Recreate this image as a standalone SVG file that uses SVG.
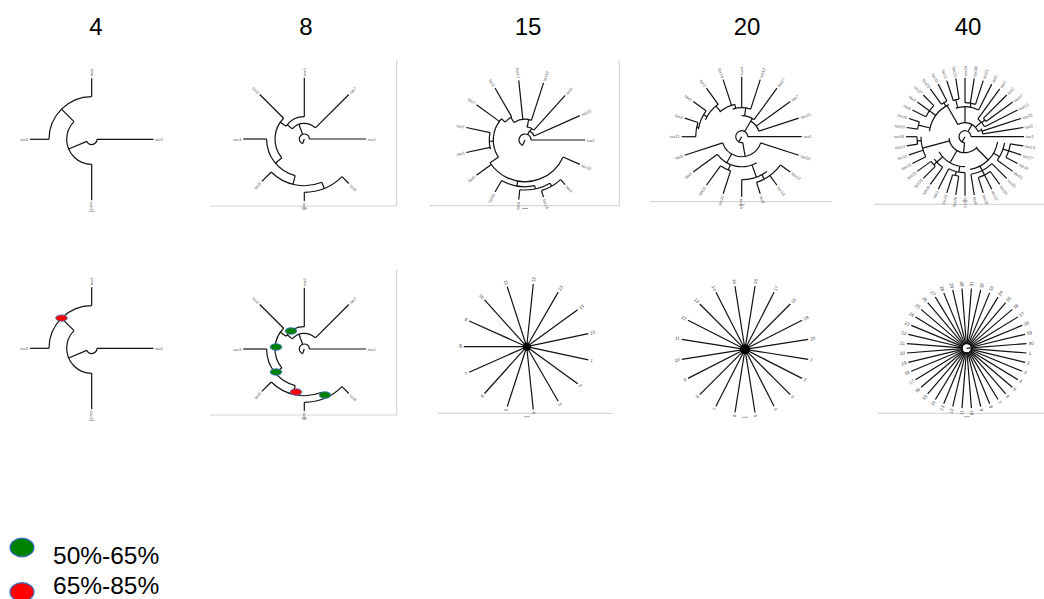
<svg xmlns="http://www.w3.org/2000/svg" xmlns:xlink="http://www.w3.org/1999/xlink" width="1044" height="599" viewBox="0 0 1044 599">
<style>
.tr line,.tr .a{stroke:#111;stroke-width:1.2;fill:none}
.tr line.sb{stroke:#666;stroke-width:0.6}
.l{font-family:"Liberation Sans",Arial,sans-serif;font-size:4.2px;fill:#666;dominant-baseline:central}
.n{font-family:"Liberation Sans",Arial,sans-serif;font-size:4.6px;fill:#444;dominant-baseline:central}
.le{text-anchor:end}
.fr{stroke:#d6d6d6;stroke-width:1.2;fill:none}
.h{font-family:"Liberation Sans",Arial,sans-serif;font-size:24px;fill:#000;text-anchor:middle}
.lg{font-family:"Liberation Sans",Arial,sans-serif;font-size:24.5px;fill:#000}
.g{fill:#008000;stroke:#3a6fc4;stroke-width:0.8}
.r{fill:#ff0000;stroke:#3a6fc4;stroke-width:0.8}
.dot{fill:#000}
</style>
<defs>
<g id="tree4" class="tr">
 <circle class="a" r="5.3" pathLength="360" stroke-dasharray="157 400"/>
 <circle class="a" r="25" pathLength="360" stroke-dasharray="135 400" transform="rotate(90)"/>
 <circle class="a" r="42.7" pathLength="360" stroke-dasharray="90 400" transform="rotate(180)"/>
 <line x1="5.3" x2="25" transform="rotate(157)"/>
 <line x1="25" x2="42.7" transform="rotate(225)"/>
 <line x1="5.3" x2="61.7"/>
 <line x1="42.7" x2="61.7" transform="rotate(180)"/>
 <line x1="42.7" x2="61" transform="rotate(270)"/>
 <line x1="25" x2="61" transform="rotate(90)"/>
 <text class="l" x="63.5">tax1</text>
 <text class="l le" x="-63.5">tax3</text>
 <text class="l" x="63" transform="rotate(270)">tax4</text>
 <text class="l" x="63" transform="rotate(90)">tax2</text>
 <line class="sb" x1="-3" x2="3" y1="72" y2="72"/>
</g>
<g id="tree8" class="tr">
 <circle class="a" r="5" pathLength="360" stroke-dasharray="250 400" transform="rotate(110)"/>
 <circle class="a" r="15.7" pathLength="360" stroke-dasharray="95 400" transform="rotate(220)"/>
 <circle class="a" r="22.3" pathLength="360" stroke-dasharray="55 400" transform="rotate(215)"/>
 <circle class="a" r="29.3" pathLength="360" stroke-dasharray="85 400" transform="rotate(140)"/>
 <circle class="a" r="37.7" pathLength="360" stroke-dasharray="76 400" transform="rotate(104)"/>
 <circle class="a" r="46.7" pathLength="360" stroke-dasharray="67 400" transform="rotate(68)"/>
 <circle class="a" r="53.3" pathLength="360" stroke-dasharray="45 400" transform="rotate(45)"/>
 <line x1="0" x2="5" transform="rotate(110)"/>
 <line x1="5" x2="15.7" transform="rotate(250)"/>
 <line x1="15.7" x2="22.3" transform="rotate(220)"/>
 <line x1="22.3" x2="29.3" transform="rotate(215)"/>
 <line x1="29.3" x2="37.7" transform="rotate(140)"/>
 <line x1="37.7" x2="46.7" transform="rotate(104)"/>
 <line x1="46.7" x2="53.3" transform="rotate(68)"/>
 <line x1="5" x2="61.7"/>
 <line x1="15.7" x2="63" transform="rotate(315)"/>
 <line x1="22.3" x2="61.3" transform="rotate(270)"/>
 <line x1="29.3" x2="63" transform="rotate(225)"/>
 <line x1="37.7" x2="61" transform="rotate(180)"/>
 <line x1="46.7" x2="60" transform="rotate(135)"/>
 <line x1="53.3" x2="62" transform="rotate(90)"/>
 <line x1="53.3" x2="63" transform="rotate(45)"/>
 <text class="l" x="63.5">tax1</text>
 <text class="l" x="65" transform="rotate(315)">tax7</text>
 <text class="l" x="63" transform="rotate(270)">tax4</text>
 <text class="l le" x="-65" transform="rotate(45)">tax2</text>
 <text class="l le" x="-63" >tax3</text>
 <text class="l le" x="-62" transform="rotate(-45)">tax5</text>
 <text class="l" x="63.5" transform="rotate(90)">tax8</text>
 <text class="l" x="65" transform="rotate(45)">tax6</text>
 <line class="sb" x1="-3" x2="3" y1="69" y2="69"/>
</g>
</defs>

<g id="headers">
 <text class="h" x="96" y="35">4</text>
 <text class="h" x="306" y="35">8</text>
 <text class="h" x="528" y="35">15</text>
 <text class="h" x="747" y="35">20</text>
 <text class="h" x="968" y="35">40</text>
</g>

<g id="panel-4">
 <use xlink:href="#tree4" href="#tree4" transform="translate(91.7,139.3)"/>
</g>

<g id="panel-8">
 <path class="fr" d="M396.7,60 V206 H210"/>
 <use xlink:href="#tree8" href="#tree8" transform="translate(304.3,139)"/>
</g>

<g id="panel-15" class="tr" transform="translate(525,140)">
 <path class="fr" d="M94.3,-80 V65.7 H-95" />
 <circle class="a" r="6" pathLength="360" stroke-dasharray="245 400" transform="rotate(115)"/>
 <circle class="a" r="10" pathLength="360" stroke-dasharray="40 400" transform="rotate(296)"/>
 <circle class="a" r="13.3" pathLength="360" stroke-dasharray="36 400" transform="rotate(276)"/>
 <circle class="a" r="20.7" pathLength="360" stroke-dasharray="50 400" transform="rotate(238)"/>
 <circle class="a" r="26.7" pathLength="360" stroke-dasharray="18 400" transform="rotate(222)"/>
 <circle class="a" r="31.7" pathLength="360" stroke-dasharray="75 400" transform="rotate(147)"/>
 <circle class="a" r="35.7" pathLength="360" stroke-dasharray="27 400" transform="rotate(165)"/>
 <circle class="a" r="41.7" pathLength="360" stroke-dasharray="123 400" transform="rotate(24)"/>
 <circle class="a" r="46.7" pathLength="360" stroke-dasharray="42 400" transform="rotate(78)"/>
 <circle class="a" r="50" pathLength="360" stroke-dasharray="36 400" transform="rotate(60)"/>
 <circle class="a" r="53.3" pathLength="360" stroke-dasharray="24 400" transform="rotate(48)"/>
 <line x1="0" x2="6" transform="rotate(115)"/>
 <line x1="6" x2="10" transform="rotate(296)"/>
 <line x1="10" x2="13.3" transform="rotate(300)"/>
 <line x1="13.3" x2="20.7" transform="rotate(280)"/>
 <line x1="20.7" x2="26.7" transform="rotate(238)"/>
 <line x1="26.7" x2="31.7" transform="rotate(222)"/>
 <line x1="31.7" x2="35.7" transform="rotate(178)"/>
 <line x1="31.7" x2="41.7" transform="rotate(147)"/>
 <line x1="41.7" x2="46.7" transform="rotate(100)"/>
 <line x1="46.7" x2="50" transform="rotate(78)"/>
 <line x1="50" x2="53.3" transform="rotate(60)"/>
 <line x1="6" x2="60"/>
 <line x1="10" x2="60" transform="rotate(336)"/>
 <line x1="13.3" x2="60" transform="rotate(312)"/>
 <line x1="20.7" x2="60" transform="rotate(288)"/>
 <line x1="20.7" x2="60" transform="rotate(264)"/>
 <line x1="26.7" x2="60" transform="rotate(240)"/>
 <line x1="31.7" x2="60" transform="rotate(216)"/>
 <line x1="35.7" x2="60" transform="rotate(192)"/>
 <line x1="35.7" x2="60" transform="rotate(168)"/>
 <line x1="41.7" x2="60" transform="rotate(144)"/>
 <line x1="46.7" x2="60" transform="rotate(120)"/>
 <line x1="50" x2="60" transform="rotate(96)"/>
 <line x1="53.3" x2="60" transform="rotate(72)"/>
 <line x1="53.3" x2="60" transform="rotate(48)"/>
 <line x1="41.7" x2="60" transform="rotate(24)"/>
 <text class="l" x="62">tax1</text>
 <text class="l" x="62" transform="rotate(336)">tax15</text>
 <text class="l" x="62" transform="rotate(312)">tax9</text>
 <text class="l" x="62" transform="rotate(288)">tax13</text>
 <text class="l le" x="-62" transform="rotate(84)">tax12</text>
 <text class="l le" x="-62" transform="rotate(60)">tax2</text>
 <text class="l le" x="-62" transform="rotate(36)">tax7</text>
 <text class="l le" x="-62" transform="rotate(12)">tax3</text>
 <text class="l le" x="-62" transform="rotate(-12)">tax6</text>
 <text class="l le" x="-62" transform="rotate(-36)">tax5</text>
 <text class="l le" x="-62" transform="rotate(-60)">tax11</text>
 <text class="l le" x="-62" transform="rotate(-84)">tax8</text>
 <text class="l" x="62" transform="rotate(72)">tax14</text>
 <text class="l" x="62" transform="rotate(48)">tax4</text>
 <text class="l" x="62" transform="rotate(24)">tax10</text>
 <line class="sb" x1="-3" x2="3" y1="68.5" y2="68.5"/>
</g>

<g id="panel-20" class="tr" transform="translate(741.7,136.7)">
 <path class="fr" d="M-91.7,65 H90.3"/>
 <circle class="a" r="6" pathLength="360" stroke-dasharray="280 400" transform="rotate(80)"/>
 <circle class="a" r="20" pathLength="360" stroke-dasharray="144 400" transform="rotate(18)"/>
 <circle class="a" r="30" pathLength="360" stroke-dasharray="84 400" transform="rotate(60)"/>
 <circle class="a" r="36" pathLength="360" stroke-dasharray="18 400" transform="rotate(108)"/>
 <circle class="a" r="43" pathLength="360" stroke-dasharray="36 400" transform="rotate(54)"/>
 <circle class="a" r="48" pathLength="360" stroke-dasharray="36 400" transform="rotate(36)"/>
 <circle class="a" r="18" pathLength="360" stroke-dasharray="42 400" transform="rotate(300)"/>
 <circle class="a" r="21" pathLength="360" stroke-dasharray="36 400" transform="rotate(270)"/>
 <circle class="a" r="29" pathLength="360" stroke-dasharray="36 400" transform="rotate(252)"/>
 <circle class="a" r="33" pathLength="360" stroke-dasharray="30 400" transform="rotate(228)"/>
 <circle class="a" r="40" pathLength="360" stroke-dasharray="29 400" transform="rotate(205)"/>
 <circle class="a" r="44" pathLength="360" stroke-dasharray="26 400" transform="rotate(190)"/>
 <circle class="a" r="46" pathLength="360" stroke-dasharray="18 400" transform="rotate(180)"/>
 <line x1="0" x2="6" transform="rotate(120)"/>
 <line x1="6" x2="20" transform="rotate(80)"/>
 <line x1="20" x2="30" transform="rotate(120)"/>
 <line x1="30" x2="36" transform="rotate(112)"/>
 <line x1="30" x2="43" transform="rotate(70)"/>
 <line x1="43" x2="48" transform="rotate(62)"/>
 <line x1="6" x2="21" transform="rotate(300)"/>
 <line x1="21" x2="29" transform="rotate(278)"/>
 <line x1="29" x2="33" transform="rotate(258)"/>
 <line x1="33" x2="40" transform="rotate(230)"/>
 <line x1="40" x2="44" transform="rotate(210)"/>
 <line x1="44" x2="46" transform="rotate(192)"/>
 <line x1="6" x2="60"/>
 <line x1="20" x2="60" transform="rotate(18)"/>
 <line x1="48" x2="60" transform="rotate(36)"/>
 <line x1="48" x2="60" transform="rotate(54)"/>
 <line x1="48" x2="60" transform="rotate(72)"/>
 <line x1="43" x2="60" transform="rotate(90)"/>
 <line x1="36" x2="60" transform="rotate(108)"/>
 <line x1="36" x2="60" transform="rotate(126)"/>
 <line x1="30" x2="60" transform="rotate(144)"/>
 <line x1="20" x2="60" transform="rotate(162)"/>
 <line x1="46" x2="60" transform="rotate(180)"/>
 <line x1="46" x2="60" transform="rotate(198)"/>
 <line x1="44" x2="60" transform="rotate(216)"/>
 <line x1="40" x2="60" transform="rotate(234)"/>
 <line x1="33" x2="60" transform="rotate(252)"/>
 <line x1="29" x2="60" transform="rotate(270)"/>
 <line x1="29" x2="60" transform="rotate(288)"/>
 <line x1="21" x2="60" transform="rotate(306)"/>
 <line x1="18" x2="60" transform="rotate(324)"/>
 <line x1="18" x2="60" transform="rotate(342)"/>
 <text class="l" x="62">tax1</text>
 <text class="l" x="62" transform="rotate(18)">tax20</text>
 <text class="l" x="62" transform="rotate(36)">tax13</text>
 <text class="l" x="62" transform="rotate(54)">tax18</text>
 <text class="l" x="62" transform="rotate(72)">tax9</text>
 <text class="l" x="62" transform="rotate(90)">tax16</text>
 <text class="l le" x="-62" transform="rotate(-72)">tax10</text>
 <text class="l le" x="-62" transform="rotate(-54)">tax19</text>
 <text class="l le" x="-62" transform="rotate(-36)">tax5</text>
 <text class="l le" x="-62" transform="rotate(-18)">tax8</text>
 <text class="l le" x="-62">tax11</text>
 <text class="l le" x="-62" transform="rotate(18)">tax2</text>
 <text class="l le" x="-62" transform="rotate(36)">tax6</text>
 <text class="l le" x="-62" transform="rotate(54)">tax3</text>
 <text class="l le" x="-62" transform="rotate(72)">tax14</text>
 <text class="l" x="62" transform="rotate(270)">tax4</text>
 <text class="l" x="62" transform="rotate(288)">tax12</text>
 <text class="l" x="62" transform="rotate(306)">tax17</text>
 <text class="l" x="62" transform="rotate(324)">tax7</text>
 <text class="l" x="62" transform="rotate(342)">tax15</text>
 <line class="sb" x1="-3" x2="3" y1="68" y2="68"/>
</g>

<g id="panel-40" class="tr" transform="translate(965,136.7)">
 <path class="fr" d="M-90,67.6 H79"/>
 <circle class="a" r="6" pathLength="360" stroke-dasharray="265 400" transform="rotate(95)"/>
 <circle class="a" r="14" pathLength="360" stroke-dasharray="98 400" transform="rotate(240)"/>
 <circle class="a" r="18" pathLength="360" stroke-dasharray="18 400" transform="rotate(333)"/>
 <circle class="a" r="22" pathLength="360" stroke-dasharray="27 400" transform="rotate(306)"/>
 <circle class="a" r="26" pathLength="360" stroke-dasharray="9 400" transform="rotate(315)"/>
 <circle class="a" r="30" pathLength="360" stroke-dasharray="45 400" transform="rotate(252)"/>
 <circle class="a" r="34" pathLength="360" stroke-dasharray="18 400" transform="rotate(270)"/>
 <circle class="a" r="38" pathLength="360" stroke-dasharray="9 400" transform="rotate(252)"/>
 <circle class="a" r="36" pathLength="360" stroke-dasharray="54 400" transform="rotate(189)"/>
 <circle class="a" r="40" pathLength="360" stroke-dasharray="9 400" transform="rotate(234)"/>
 <circle class="a" r="44" pathLength="360" stroke-dasharray="18 400" transform="rotate(207)"/>
 <circle class="a" r="48" pathLength="360" stroke-dasharray="9 400" transform="rotate(189)"/>
 <circle class="a" r="16" pathLength="360" stroke-dasharray="135 400" transform="rotate(40)"/>
 <circle class="a" r="33" pathLength="360" stroke-dasharray="72 400" transform="rotate(9)"/>
 <circle class="a" r="40" pathLength="360" stroke-dasharray="27 400" transform="rotate(9)"/>
 <circle class="a" r="46" pathLength="360" stroke-dasharray="18 400" transform="rotate(9)"/>
 <circle class="a" r="38" pathLength="360" stroke-dasharray="36 400" transform="rotate(45)"/>
 <circle class="a" r="43" pathLength="360" stroke-dasharray="18 400" transform="rotate(54)"/>
 <circle class="a" r="30" pathLength="360" stroke-dasharray="60 400" transform="rotate(90)"/>
 <circle class="a" r="36" pathLength="360" stroke-dasharray="27 400" transform="rotate(90)"/>
 <circle class="a" r="40" pathLength="360" stroke-dasharray="9 400" transform="rotate(99)"/>
 <circle class="a" r="38" pathLength="360" stroke-dasharray="18 400" transform="rotate(126)"/>
 <circle class="a" r="42" pathLength="360" stroke-dasharray="9 400" transform="rotate(135)"/>
 <circle class="a" r="44" pathLength="360" stroke-dasharray="27 400" transform="rotate(153)"/>
 <circle class="a" r="48" pathLength="360" stroke-dasharray="9 400" transform="rotate(171)"/>
 <line x1="0" x2="6" transform="rotate(120)"/>
 <line x1="6" x2="14" transform="rotate(300)"/>
 <line x1="14" x2="18" transform="rotate(338)"/>
 <line x1="14" x2="22" transform="rotate(318)"/>
 <line x1="22" x2="26" transform="rotate(320)"/>
 <line x1="14" x2="30" transform="rotate(270)"/>
 <line x1="30" x2="34" transform="rotate(280)"/>
 <line x1="30" x2="38" transform="rotate(256)"/>
 <line x1="14" x2="36" transform="rotate(240)"/>
 <line x1="36" x2="40" transform="rotate(238)"/>
 <line x1="36" x2="44" transform="rotate(216)"/>
 <line x1="36" x2="48" transform="rotate(194)"/>
 <line x1="6" x2="16" transform="rotate(95)"/>
 <line x1="16" x2="33" transform="rotate(45)"/>
 <line x1="33" x2="40" transform="rotate(30)"/>
 <line x1="40" x2="46" transform="rotate(18)"/>
 <line x1="33" x2="43" transform="rotate(63)"/>
 <line x1="16" x2="30" transform="rotate(120)"/>
 <line x1="30" x2="36" transform="rotate(100)"/>
 <line x1="36" x2="40" transform="rotate(104)"/>
 <line x1="30" x2="42" transform="rotate(138)"/>
 <line x1="16" x2="44" transform="rotate(165)"/>
 <line x1="44" x2="48" transform="rotate(175)"/>
 <line x1="6" x2="59"/>
 <line x1="46" x2="59" transform="rotate(9)"/>
 <line x1="46" x2="59" transform="rotate(18)"/>
 <line x1="46" x2="59" transform="rotate(27)"/>
 <line x1="40" x2="59" transform="rotate(36)"/>
 <line x1="38" x2="59" transform="rotate(45)"/>
 <line x1="43" x2="59" transform="rotate(54)"/>
 <line x1="43" x2="59" transform="rotate(63)"/>
 <line x1="43" x2="59" transform="rotate(72)"/>
 <line x1="38" x2="59" transform="rotate(81)"/>
 <line x1="36" x2="59" transform="rotate(90)"/>
 <line x1="40" x2="59" transform="rotate(99)"/>
 <line x1="40" x2="59" transform="rotate(108)"/>
 <line x1="36" x2="59" transform="rotate(117)"/>
 <line x1="38" x2="59" transform="rotate(126)"/>
 <line x1="42" x2="59" transform="rotate(135)"/>
 <line x1="42" x2="59" transform="rotate(144)"/>
 <line x1="44" x2="59" transform="rotate(153)"/>
 <line x1="44" x2="59" transform="rotate(162)"/>
 <line x1="48" x2="59" transform="rotate(171)"/>
 <line x1="48" x2="59" transform="rotate(180)"/>
 <line x1="48" x2="59" transform="rotate(189)"/>
 <line x1="48" x2="59" transform="rotate(198)"/>
 <line x1="44" x2="59" transform="rotate(207)"/>
 <line x1="44" x2="59" transform="rotate(216)"/>
 <line x1="44" x2="59" transform="rotate(225)"/>
 <line x1="40" x2="59" transform="rotate(234)"/>
 <line x1="40" x2="59" transform="rotate(243)"/>
 <line x1="38" x2="59" transform="rotate(252)"/>
 <line x1="38" x2="59" transform="rotate(261)"/>
 <line x1="34" x2="59" transform="rotate(270)"/>
 <line x1="34" x2="59" transform="rotate(279)"/>
 <line x1="34" x2="59" transform="rotate(288)"/>
 <line x1="30" x2="59" transform="rotate(297)"/>
 <line x1="22" x2="59" transform="rotate(306)"/>
 <line x1="26" x2="59" transform="rotate(315)"/>
 <line x1="26" x2="59" transform="rotate(324)"/>
 <line x1="22" x2="59" transform="rotate(333)"/>
 <line x1="18" x2="59" transform="rotate(342)"/>
 <line x1="18" x2="59" transform="rotate(351)"/>
 <text class="l" x="60.8">tax1</text>
 <text class="l" x="60.8" transform="rotate(9)">tax19</text>
 <text class="l" x="60.8" transform="rotate(18)">tax17</text>
 <text class="l" x="60.8" transform="rotate(27)">tax32</text>
 <text class="l" x="60.8" transform="rotate(36)">tax21</text>
 <text class="l" x="60.8" transform="rotate(45)">tax23</text>
 <text class="l" x="60.8" transform="rotate(54)">tax34</text>
 <text class="l" x="60.8" transform="rotate(63)">tax12</text>
 <text class="l" x="60.8" transform="rotate(72)">tax29</text>
 <text class="l" x="60.8" transform="rotate(81)">tax8</text>
 <text class="l" x="60.8" transform="rotate(90)">tax24</text>
 <text class="l le" x="-60.8" transform="rotate(-81)">tax35</text>
 <text class="l le" x="-60.8" transform="rotate(-72)">tax16</text>
 <text class="l le" x="-60.8" transform="rotate(-63)">tax3</text>
 <text class="l le" x="-60.8" transform="rotate(-54)">tax28</text>
 <text class="l le" x="-60.8" transform="rotate(-45)">tax39</text>
 <text class="l le" x="-60.8" transform="rotate(-36)">tax25</text>
 <text class="l le" x="-60.8" transform="rotate(-27)">tax18</text>
 <text class="l le" x="-60.8" transform="rotate(-18)">tax15</text>
 <text class="l le" x="-60.8" transform="rotate(-9)">tax14</text>
 <text class="l le" x="-60.8">tax33</text>
 <text class="l le" x="-60.8" transform="rotate(9)">tax30</text>
 <text class="l le" x="-60.8" transform="rotate(18)">tax40</text>
 <text class="l le" x="-60.8" transform="rotate(27)">tax6</text>
 <text class="l le" x="-60.8" transform="rotate(36)">tax4</text>
 <text class="l le" x="-60.8" transform="rotate(45)">tax27</text>
 <text class="l le" x="-60.8" transform="rotate(54)">tax20</text>
 <text class="l le" x="-60.8" transform="rotate(63)">tax36</text>
 <text class="l le" x="-60.8" transform="rotate(72)">tax11</text>
 <text class="l le" x="-60.8" transform="rotate(81)">tax10</text>
 <text class="l" x="60.8" transform="rotate(270)">tax26</text>
 <text class="l" x="60.8" transform="rotate(279)">tax38</text>
 <text class="l" x="60.8" transform="rotate(288)">tax31</text>
 <text class="l" x="60.8" transform="rotate(297)">tax9</text>
 <text class="l" x="60.8" transform="rotate(306)">tax7</text>
 <text class="l" x="60.8" transform="rotate(315)">tax2</text>
 <text class="l" x="60.8" transform="rotate(324)">tax37</text>
 <text class="l" x="60.8" transform="rotate(333)">tax13</text>
 <text class="l" x="60.8" transform="rotate(342)">tax22</text>
 <text class="l" x="60.8" transform="rotate(351)">tax5</text>
 <line class="sb" x1="-3" x2="3" y1="64.3" y2="64.3"/>
</g>

<g id="panel-4-support">
 <use xlink:href="#tree4" href="#tree4" transform="translate(91.7,348.3)"/>
 <ellipse class="r" cx="61.5" cy="318.1" rx="5.8" ry="3.2"/>
</g>

<g id="panel-8-support">
 <path class="fr" d="M396.7,270 V415 H210"/>
 <use xlink:href="#tree8" href="#tree8" transform="translate(304.3,349)"/>
 <ellipse class="g" cx="291" cy="331" rx="5.8" ry="3.3"/>
 <ellipse class="g" cx="276" cy="347" rx="5.8" ry="3.3"/>
 <ellipse class="g" cx="276" cy="372" rx="5.8" ry="3.3"/>
 <ellipse class="r" cx="296" cy="392" rx="5.8" ry="3.3"/>
 <ellipse class="g" cx="325" cy="395" rx="5.8" ry="3.3"/>
</g>

<g id="panel-15-star" class="tr" transform="translate(526.7,346.7)">
 <path class="fr" d="M-88.7,66.6 H86.3"/>
 <line x2="63" transform="rotate(12)"/><line x2="63" transform="rotate(36)"/><line x2="63" transform="rotate(60)"/>
 <line x2="63" transform="rotate(84)"/><line x2="63" transform="rotate(108)"/><line x2="63" transform="rotate(132)"/>
 <line x2="63" transform="rotate(156)"/><line x2="63" transform="rotate(180)"/><line x2="63" transform="rotate(204)"/>
 <line x2="63" transform="rotate(228)"/><line x2="63" transform="rotate(252)"/><line x2="63" transform="rotate(276)"/>
 <line x2="63" transform="rotate(300)"/><line x2="63" transform="rotate(324)"/><line x2="63" transform="rotate(348)"/>
 <circle class="dot" r="4"/>
 <text class="n" x="65" transform="rotate(12)">1</text>
 <text class="n" x="65" transform="rotate(36)">2</text>
 <text class="n" x="65" transform="rotate(60)">3</text>
 <text class="n" x="65" transform="rotate(84)">4</text>
 <text class="n le" x="-65" transform="rotate(-72)">5</text>
 <text class="n le" x="-65" transform="rotate(-48)">6</text>
 <text class="n le" x="-65" transform="rotate(-24)">7</text>
 <text class="n le" x="-65">8</text>
 <text class="n le" x="-65" transform="rotate(24)">9</text>
 <text class="n le" x="-65" transform="rotate(48)">10</text>
 <text class="n le" x="-65" transform="rotate(72)">11</text>
 <text class="n" x="65" transform="rotate(276)">12</text>
 <text class="n" x="65" transform="rotate(300)">13</text>
 <text class="n" x="65" transform="rotate(324)">14</text>
 <text class="n" x="65" transform="rotate(348)">15</text>
 <line class="sb" x1="-3" x2="3" y1="70" y2="70"/>
</g>

<g id="panel-20-star" class="tr" transform="translate(745,349.3)">
 <line x2="64" transform="rotate(9)"/><line x2="64" transform="rotate(27)"/><line x2="64" transform="rotate(45)"/>
 <line x2="64" transform="rotate(63)"/><line x2="64" transform="rotate(81)"/><line x2="64" transform="rotate(99)"/>
 <line x2="64" transform="rotate(117)"/><line x2="64" transform="rotate(135)"/><line x2="64" transform="rotate(153)"/>
 <line x2="64" transform="rotate(171)"/><line x2="64" transform="rotate(189)"/><line x2="64" transform="rotate(207)"/>
 <line x2="64" transform="rotate(225)"/><line x2="64" transform="rotate(243)"/><line x2="64" transform="rotate(261)"/>
 <line x2="64" transform="rotate(279)"/><line x2="64" transform="rotate(297)"/><line x2="64" transform="rotate(315)"/>
 <line x2="64" transform="rotate(333)"/><line x2="64" transform="rotate(351)"/>
 <circle class="dot" r="5"/>
 <text class="n" x="66" transform="rotate(9)">1</text>
 <text class="n" x="66" transform="rotate(27)">2</text>
 <text class="n" x="66" transform="rotate(45)">3</text>
 <text class="n" x="66" transform="rotate(63)">4</text>
 <text class="n" x="66" transform="rotate(81)">5</text>
 <text class="n le" x="-66" transform="rotate(-81)">6</text>
 <text class="n le" x="-66" transform="rotate(-63)">7</text>
 <text class="n le" x="-66" transform="rotate(-45)">8</text>
 <text class="n le" x="-66" transform="rotate(-27)">9</text>
 <text class="n le" x="-66" transform="rotate(-9)">10</text>
 <text class="n le" x="-66" transform="rotate(9)">11</text>
 <text class="n le" x="-66" transform="rotate(27)">12</text>
 <text class="n le" x="-66" transform="rotate(45)">13</text>
 <text class="n le" x="-66" transform="rotate(63)">14</text>
 <text class="n le" x="-66" transform="rotate(81)">15</text>
 <text class="n" x="66" transform="rotate(279)">16</text>
 <text class="n" x="66" transform="rotate(297)">17</text>
 <text class="n" x="66" transform="rotate(315)">18</text>
 <text class="n" x="66" transform="rotate(333)">19</text>
 <text class="n" x="66" transform="rotate(351)">20</text>
 <line class="sb" x1="-3" x2="3" y1="68" y2="68"/>
</g>

<g id="panel-40-star" class="tr" transform="translate(966.7,348.3)">
 <path class="fr" d="M-88.7,65 H77.3"/>
 <line x1="4.5" x2="60" transform="rotate(4.5)"/><line x1="4.5" x2="60" transform="rotate(13.5)"/><line x1="4.5" x2="60" transform="rotate(22.5)"/><line x1="4.5" x2="60" transform="rotate(31.5)"/>
 <line x1="4.5" x2="60" transform="rotate(40.5)"/><line x1="4.5" x2="60" transform="rotate(49.5)"/><line x1="4.5" x2="60" transform="rotate(58.5)"/><line x1="4.5" x2="60" transform="rotate(67.5)"/>
 <line x1="4.5" x2="60" transform="rotate(76.5)"/><line x1="4.5" x2="60" transform="rotate(85.5)"/><line x1="4.5" x2="60" transform="rotate(94.5)"/><line x1="4.5" x2="60" transform="rotate(103.5)"/>
 <line x1="4.5" x2="60" transform="rotate(112.5)"/><line x1="4.5" x2="60" transform="rotate(121.5)"/><line x1="4.5" x2="60" transform="rotate(130.5)"/><line x1="4.5" x2="60" transform="rotate(139.5)"/>
 <line x1="4.5" x2="60" transform="rotate(148.5)"/><line x1="4.5" x2="60" transform="rotate(157.5)"/><line x1="4.5" x2="60" transform="rotate(166.5)"/><line x1="4.5" x2="60" transform="rotate(175.5)"/>
 <line x1="4.5" x2="60" transform="rotate(184.5)"/><line x1="4.5" x2="60" transform="rotate(193.5)"/><line x1="4.5" x2="60" transform="rotate(202.5)"/><line x1="4.5" x2="60" transform="rotate(211.5)"/>
 <line x1="4.5" x2="60" transform="rotate(220.5)"/><line x1="4.5" x2="60" transform="rotate(229.5)"/><line x1="4.5" x2="60" transform="rotate(238.5)"/><line x1="4.5" x2="60" transform="rotate(247.5)"/>
 <line x1="4.5" x2="60" transform="rotate(256.5)"/><line x1="4.5" x2="60" transform="rotate(265.5)"/><line x1="4.5" x2="60" transform="rotate(274.5)"/><line x1="4.5" x2="60" transform="rotate(283.5)"/>
 <line x1="4.5" x2="60" transform="rotate(292.5)"/><line x1="4.5" x2="60" transform="rotate(301.5)"/><line x1="4.5" x2="60" transform="rotate(310.5)"/><line x1="4.5" x2="60" transform="rotate(319.5)"/>
 <line x1="4.5" x2="60" transform="rotate(328.5)"/><line x1="4.5" x2="60" transform="rotate(337.5)"/><line x1="4.5" x2="60" transform="rotate(346.5)"/><line x1="4.5" x2="60" transform="rotate(355.5)"/>
 <circle class="a" r="5" style="stroke-width:2"/>
 <line x1="0" x2="4" transform="rotate(-6)"/>
 <text class="n" x="62" transform="rotate(4.5)">1</text>
 <text class="n" x="62" transform="rotate(13.5)">2</text>
 <text class="n" x="62" transform="rotate(22.5)">3</text>
 <text class="n" x="62" transform="rotate(31.5)">4</text>
 <text class="n" x="62" transform="rotate(40.5)">5</text>
 <text class="n" x="62" transform="rotate(49.5)">6</text>
 <text class="n" x="62" transform="rotate(58.5)">7</text>
 <text class="n" x="62" transform="rotate(67.5)">8</text>
 <text class="n" x="62" transform="rotate(76.5)">9</text>
 <text class="n" x="62" transform="rotate(85.5)">10</text>
 <text class="n le" x="-62" transform="rotate(-85.5)">11</text>
 <text class="n le" x="-62" transform="rotate(-76.5)">12</text>
 <text class="n le" x="-62" transform="rotate(-67.5)">13</text>
 <text class="n le" x="-62" transform="rotate(-58.5)">14</text>
 <text class="n le" x="-62" transform="rotate(-49.5)">15</text>
 <text class="n le" x="-62" transform="rotate(-40.5)">16</text>
 <text class="n le" x="-62" transform="rotate(-31.5)">17</text>
 <text class="n le" x="-62" transform="rotate(-22.5)">18</text>
 <text class="n le" x="-62" transform="rotate(-13.5)">19</text>
 <text class="n le" x="-62" transform="rotate(-4.5)">20</text>
 <text class="n le" x="-62" transform="rotate(4.5)">21</text>
 <text class="n le" x="-62" transform="rotate(13.5)">22</text>
 <text class="n le" x="-62" transform="rotate(22.5)">23</text>
 <text class="n le" x="-62" transform="rotate(31.5)">24</text>
 <text class="n le" x="-62" transform="rotate(40.5)">25</text>
 <text class="n le" x="-62" transform="rotate(49.5)">26</text>
 <text class="n le" x="-62" transform="rotate(58.5)">27</text>
 <text class="n le" x="-62" transform="rotate(67.5)">28</text>
 <text class="n le" x="-62" transform="rotate(76.5)">29</text>
 <text class="n le" x="-62" transform="rotate(85.5)">30</text>
 <text class="n" x="62" transform="rotate(274.5)">31</text>
 <text class="n" x="62" transform="rotate(283.5)">32</text>
 <text class="n" x="62" transform="rotate(292.5)">33</text>
 <text class="n" x="62" transform="rotate(301.5)">34</text>
 <text class="n" x="62" transform="rotate(310.5)">35</text>
 <text class="n" x="62" transform="rotate(319.5)">36</text>
 <text class="n" x="62" transform="rotate(328.5)">37</text>
 <text class="n" x="62" transform="rotate(337.5)">38</text>
 <text class="n" x="62" transform="rotate(346.5)">39</text>
 <text class="n" x="62" transform="rotate(355.5)">40</text>
 <line class="sb" x1="-3" x2="3" y1="68.4" y2="68.4"/>
</g>

<g id="legend">
 <ellipse class="g" cx="22" cy="547.5" rx="12" ry="9.3" style="stroke-width:1.2"/>
 <text class="lg" x="53" y="564">50%-65%</text>
 <ellipse class="r" cx="22" cy="592" rx="12" ry="9.3" style="stroke-width:1.2"/>
 <text class="lg" x="53" y="594">65%-85%</text>
</g>
</svg>
